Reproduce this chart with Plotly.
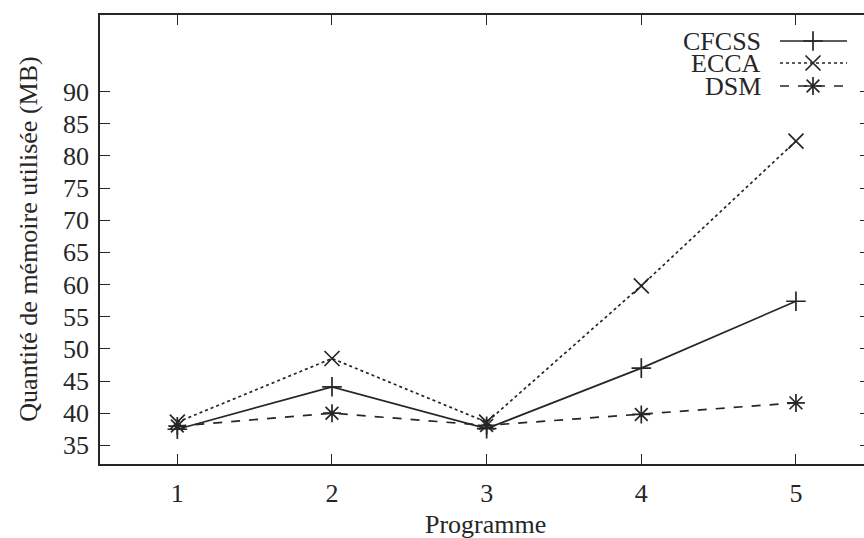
import plotly.graph_objects as go

programmes = [1, 2, 3, 4, 5]
cfcss = [37.5, 44.1, 37.6, 47.0, 57.4]
ecca = [38.6, 48.5, 38.6, 59.8, 82.3]
dsm = [38.0, 40.0, 38.1, 39.8, 41.6]

series_names = ["CFCSS", "ECCA", "DSM"]
y_ticks = [35, 40, 45, 50, 55, 60, 65, 70, 75, 80, 85, 90]
x_ticks = [1, 2, 3, 4, 5]

INK = "#262626"
FONT = "Liberation Serif, Times New Roman, Times, serif"
FS = 26

styles = {
    "CFCSS": dict(dash="solid", symbol="cross-thin", size=14),
    "ECCA": dict(dash="dot", symbol="x-thin", size=15),
    "DSM": dict(dash="dash", symbol="asterisk", size=15),
}
values = {"CFCSS": cfcss, "ECCA": ecca, "DSM": dsm}

fig = go.Figure()
for name in series_names:
    st = styles[name]
    fig.add_trace(go.Scatter(
        x=programmes, y=values[name], mode="lines+markers", name=name,
        line=dict(color=INK, width=1.7, dash=st["dash"]),
        marker=dict(symbol=st["symbol"], size=st["size"], color=INK,
                    line=dict(color=INK, width=1.7)),
        showlegend=False,
    ))

# gnuplot-style key (text left, sample right) drawn in an overlay pixel-like frame
key_rows = [41, 63, 86]
for name, yk in zip(series_names, key_rows):
    st = styles[name]
    fig.add_trace(go.Scatter(
        x=[780, 847], y=[yk, yk], mode="lines", xaxis="x2", yaxis="y2",
        line=dict(color=INK, width=1.7, dash=st["dash"]), showlegend=False,
        hoverinfo="skip",
    ))
    fig.add_trace(go.Scatter(
        x=[813], y=[yk], mode="markers", xaxis="x2", yaxis="y2",
        marker=dict(symbol=st["symbol"], size=st["size"], color=INK,
                    line=dict(color=INK, width=1.7)),
        showlegend=False, hoverinfo="skip",
    ))
    fig.add_annotation(
        x=763, y=yk, xref="x2", yref="y2", text=name, showarrow=False,
        xanchor="right", yanchor="middle",
        font=dict(family=FONT, size=FS, color=INK),
    )

# axis titles
fig.add_annotation(x=-0.094, y=0.5, xref="paper", yref="paper",
                   text="Quantité de mémoire utilisée (MB)", textangle=-90,
                   showarrow=False, xanchor="center", yanchor="middle",
                   font=dict(family=FONT, size=FS, color=INK))
fig.add_annotation(x=0.504, y=-0.134, xref="paper", yref="paper",
                   text="Programme", showarrow=False,
                   xanchor="center", yanchor="middle",
                   font=dict(family=FONT, size=FS, color=INK))

axis_common = dict(
    ticks="inside", ticklen=10, tickwidth=1.4, tickcolor=INK,
    showgrid=False, zeroline=False, linecolor=INK, linewidth=1.6,
    tickfont=dict(family=FONT, size=FS, color=INK), automargin=False,
)

fig.update_layout(
    width=864, height=538,
    margin=dict(l=100, r=0, t=15, b=74),
    paper_bgcolor="white", plot_bgcolor="white",
    font=dict(family=FONT, size=FS, color=INK),
    xaxis=dict(
        range=[0.5, 5.44], tickvals=x_ticks, ticktext=[str(v) for v in x_ticks],
        showline=True, mirror="ticks", ticklabelstandoff=5,
        **axis_common,
    ),
    yaxis=dict(
        range=[32.1, 101.9], tickvals=y_ticks, ticktext=[str(v) for v in y_ticks],
        showline=True, mirror=False, ticklabelstandoff=4,
        **axis_common,
    ),
    yaxis3=dict(
        range=[32.1, 101.9], tickvals=y_ticks, overlaying="y", side="right",
        showticklabels=False, ticks="inside", ticklen=4, tickwidth=1.4,
        tickcolor=INK, showline=False, showgrid=False, zeroline=False,
        automargin=False,
    ),
    xaxis2=dict(range=[100, 864], overlaying="x", visible=False, fixedrange=True),
    yaxis2=dict(range=[464, 15], overlaying="y", visible=False, fixedrange=True),
)

fig.add_trace(go.Scatter(x=[None], y=[None], yaxis="y3", showlegend=False))

fig.write_html("out.html", config={"displayModeBar": False},
               post_script="document.body.style.margin='0';")
